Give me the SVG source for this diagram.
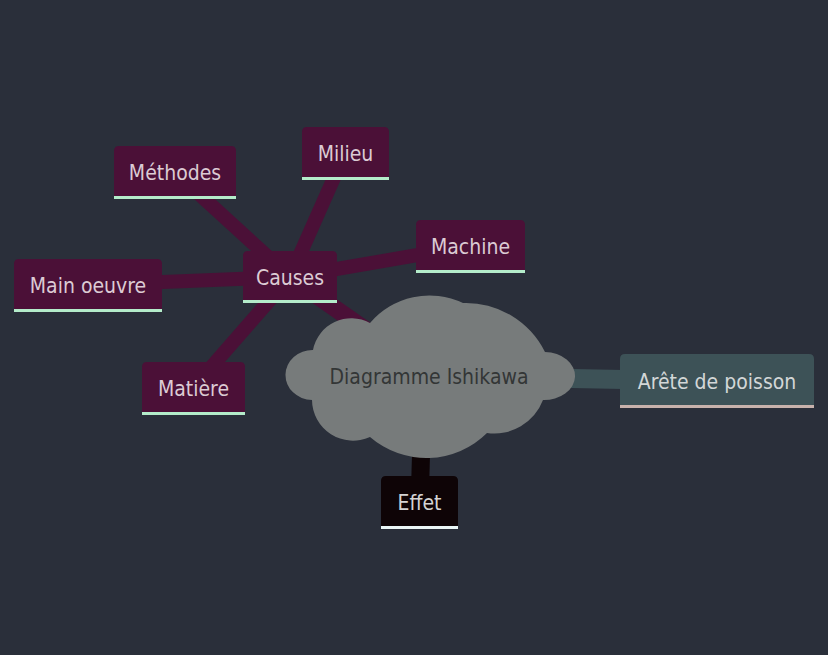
<svg xmlns="http://www.w3.org/2000/svg" width="828" height="655" viewBox="0 0 828 655">
<style>
.bg{fill:#2a2f3a}
.c{fill:#4b1037}
.ul{fill:#b4ecca}
.t{font-family:"DejaVu Sans Condensed","DejaVu Sans",sans-serif;font-stretch:condensed;font-size:21px;text-anchor:middle;fill:#dccbd4}
.e1{stroke:#4b1037;stroke-width:17;fill:none}
.e2{stroke:#4b1037;stroke-width:14;fill:none}
</style>
<rect class="bg" x="0" y="0" width="828" height="655"/>
<g id="connectors">
<line class="e1" x1="432" y1="376" x2="290" y2="277"/>
<line class="e2" x1="290" y1="277" x2="175" y2="172"/>
<line class="e2" x1="290" y1="277" x2="345" y2="153"/>
<line class="e2" x1="290" y1="277" x2="470" y2="246"/>
<line class="e2" x1="290" y1="277" x2="88" y2="285"/>
<line class="e2" x1="290" y1="277" x2="193" y2="388"/>
<line stroke="#0e0406" stroke-width="18" x1="422" y1="420" x2="420" y2="490"/>
<line stroke="#3d5257" stroke-width="19" x1="500" y1="377" x2="700" y2="381"/>
</g>
<g id="root">
<path fill="#777b7b" d="M313,350 A39,39 0 0 1 370,323 A78,78 0 0 1 463,303 A88,88 0 0 1 545,352 A31,24 0 1 1 543,400 A52,52 0 0 1 487,433 A86,86 0 0 1 370,437 A41,41 0 0 1 312,400 A27,25 0 0 1 313,350 Z"/>
<text class="t" x="429" y="384" style="fill:#333636">Diagramme Ishikawa</text>
</g>
<g id="causes">
<path class="c" d="M243,303 V256 Q243,251 248,251 H332 Q337,251 337,256 V303 Z"/>
<rect class="ul" x="243" y="300" width="94" height="3"/>
<text class="t" x="290" y="285">Causes</text>
</g>
<g id="methodes">
<path class="c" d="M114,199 V151 Q114,146 119,146 H231 Q236,146 236,151 V199 Z"/>
<rect class="ul" x="114" y="196" width="122" height="3"/>
<text class="t" x="175" y="180">Méthodes</text>
</g>
<g id="milieu">
<path class="c" d="M302,180 V132 Q302,127 307,127 H384 Q389,127 389,132 V180 Z"/>
<rect class="ul" x="302" y="177" width="87" height="3"/>
<text class="t" x="345.5" y="161">Milieu</text>
</g>
<g id="machine">
<path class="c" d="M416,273 V225 Q416,220 421,220 H520 Q525,220 525,225 V273 Z"/>
<rect class="ul" x="416" y="270" width="109" height="3"/>
<text class="t" x="470.5" y="254">Machine</text>
</g>
<g id="main-oeuvre">
<path class="c" d="M14,312 V264 Q14,259 19,259 H157 Q162,259 162,264 V312 Z"/>
<rect class="ul" x="14" y="309" width="148" height="3"/>
<text class="t" x="88" y="293">Main oeuvre</text>
</g>
<g id="matiere">
<path class="c" d="M142,415 V367 Q142,362 147,362 H240 Q245,362 245,367 V415 Z"/>
<rect class="ul" x="142" y="412" width="103" height="3"/>
<text class="t" x="193.5" y="396">Matière</text>
</g>
<g id="effet">
<path fill="#0e0406" d="M381,529 V481 Q381,476 386,476 H453 Q458,476 458,481 V529 Z"/>
<rect fill="#eaf6f6" x="381" y="526" width="77" height="3"/>
<text class="t" x="419.5" y="510" style="fill:#d4d4d4">Effet</text>
</g>
<g id="arete">
<path fill="#3d5257" d="M620,408 V359 Q620,354 625,354 H809 Q814,354 814,359 V408 Z"/>
<rect fill="#c8b2ac" x="620" y="405" width="194" height="3"/>
<text class="t" x="717" y="389" style="fill:#d3d7d7">Arête de poisson</text>
</g>
</svg>
